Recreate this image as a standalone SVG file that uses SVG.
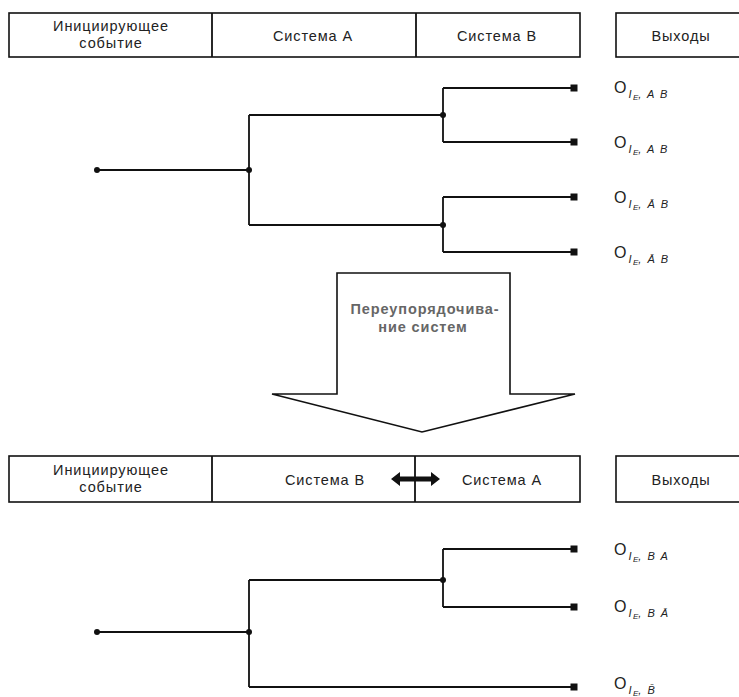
<svg xmlns="http://www.w3.org/2000/svg" width="739" height="697" viewBox="0 0 739 697">
  <style>
    .box { fill: #fff; stroke: #111; stroke-width: 1.6; }
    .ln { fill: none; stroke: #111; stroke-width: 1.8; }
    .hd { font-family: "Liberation Sans", Arial, sans-serif; font-size: 14.5px; letter-spacing: 0.9px; fill: #222; text-anchor: middle; }
    .o { font-family: "Liberation Sans", Arial, sans-serif; font-size: 16px; fill: #222; }
    .s { font-family: "Liberation Sans", Arial, sans-serif; font-size: 11px; font-style: italic; letter-spacing: 1.5px; fill: #222; }
    .ss { font-size: 8px; letter-spacing: 0; }
    .big { font-family: "Liberation Sans", Arial, sans-serif; font-size: 14.5px; font-weight: bold; letter-spacing: 0.9px; fill: #666; text-anchor: middle; }
  </style>
  <defs>
    <circle id="dot" r="3" fill="#111"/>
    <rect id="end" x="-3.5" y="-3.5" width="7" height="7" fill="#111"/>
  </defs>

  <!-- upper header -->
  <g id="header-top">
    <rect class="box" x="9" y="13" width="571" height="44"/>
    <line class="ln" x1="212" y1="13" x2="212" y2="57" stroke-width="1.6"/>
    <line class="ln" x1="416" y1="13" x2="416" y2="57" stroke-width="1.6"/>
    <text class="hd" x="111" y="31">Инициирующее</text>
    <text class="hd" x="111" y="48">событие</text>
    <text class="hd" x="313" y="41">Система A</text>
    <text class="hd" x="497" y="41">Система B</text>
  </g>
  <g id="outputs-top">
    <rect class="box" x="616" y="13" width="130" height="44"/>
    <text class="hd" x="681" y="41">Выходы</text>
  </g>

  <!-- upper event tree -->
  <g id="tree-top">
    <path class="ln" d="M97,170 H249 M249,115 V225 M249,115 H443 M249,225 H443 M443,88 V142 M443,197 V252 M443,88 H573 M443,142 H573 M443,197 H573 M443,252 H573"/>
    <use href="#dot" x="97" y="170"/>
    <use href="#dot" x="249" y="170"/>
    <use href="#dot" x="443" y="115"/>
    <use href="#dot" x="443" y="225"/>
    <use href="#end" x="574" y="88"/>
    <use href="#end" x="574" y="142"/>
    <use href="#end" x="574" y="197"/>
    <use href="#end" x="574" y="252"/>
  </g>
  <g id="labels-top">
    <text class="o" x="614" y="93">O<tspan class="s" dx="2" dy="5">I<tspan class="ss" dy="2">E</tspan><tspan dy="-2">, A B</tspan></tspan></text>
    <text class="o" x="614" y="148">O<tspan class="s" dx="2" dy="5">I<tspan class="ss" dy="2">E</tspan><tspan dy="-2">, A B</tspan></tspan></text>
    <text class="o" x="614" y="203">O<tspan class="s" dx="2" dy="5">I<tspan class="ss" dy="2">E</tspan><tspan dy="-2">, Ā B</tspan></tspan></text>
    <text class="o" x="614" y="258">O<tspan class="s" dx="2" dy="5">I<tspan class="ss" dy="2">E</tspan><tspan dy="-2">, Ā B</tspan></tspan></text>
  </g>

  <!-- reorder arrow -->
  <g id="reorder">
    <path d="M337,273 H510 V394 H575 L422,432 L272,394 H337 Z" fill="#fff" stroke="#111" stroke-width="1.6" stroke-linejoin="miter"/>
    <text class="big" x="425" y="314">Переупорядочива-</text>
    <text class="big" x="423" y="332">ние систем</text>
  </g>

  <!-- lower header -->
  <g id="header-bottom">
    <rect class="box" x="9" y="456" width="571" height="46"/>
    <line class="ln" x1="212" y1="456" x2="212" y2="502" stroke-width="1.6"/>
    <line class="ln" x1="415" y1="456" x2="415" y2="502" stroke-width="1.6"/>
    <text class="hd" x="111" y="475">Инициирующее</text>
    <text class="hd" x="111" y="492">событие</text>
    <text class="hd" x="325" y="485">Система B</text>
    <text class="hd" x="502" y="485">Система A</text>
    <path d="M391,479 L400,472 V476.5 H431 V472 L440,479 L431,486 V481.5 H400 V486 Z" fill="#111"/>
  </g>
  <g id="outputs-bottom">
    <rect class="box" x="616" y="456" width="130" height="46"/>
    <text class="hd" x="681" y="485">Выходы</text>
  </g>

  <!-- lower event tree -->
  <g id="tree-bottom">
    <path class="ln" d="M97,632 H249 M249,580 V687 M249,580 H443 M443,549 V607 M443,549 H573 M443,607 H573 M249,687 H573"/>
    <use href="#dot" x="97" y="632"/>
    <use href="#dot" x="249" y="632"/>
    <use href="#dot" x="443" y="580"/>
    <use href="#end" x="574" y="549"/>
    <use href="#end" x="574" y="607"/>
    <use href="#end" x="574" y="687"/>
  </g>
  <g id="labels-bottom">
    <text class="o" x="614" y="555">O<tspan class="s" dx="2" dy="5">I<tspan class="ss" dy="2">E</tspan><tspan dy="-2">, B A</tspan></tspan></text>
    <text class="o" x="614" y="612">O<tspan class="s" dx="2" dy="5">I<tspan class="ss" dy="2">E</tspan><tspan dy="-2">, B Ā</tspan></tspan></text>
    <text class="o" x="614" y="689">O<tspan class="s" dx="2" dy="5">I<tspan class="ss" dy="2">E</tspan><tspan dy="-2">, B̄</tspan></tspan></text>
  </g>
</svg>
